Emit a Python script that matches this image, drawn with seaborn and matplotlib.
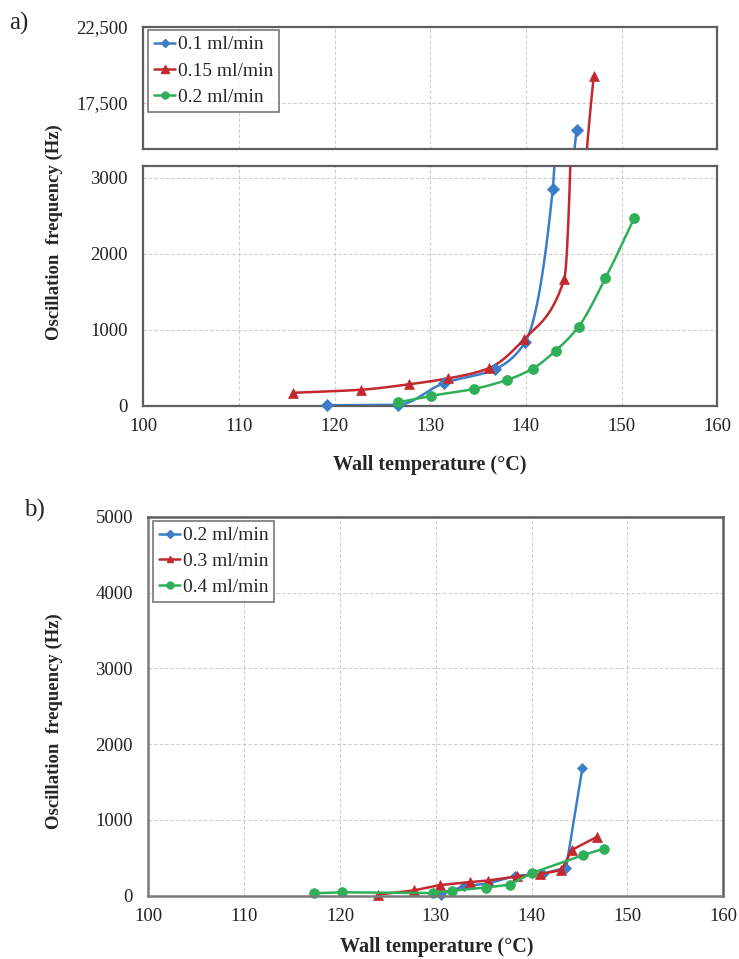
import numpy as np
import pandas as pd
import matplotlib
matplotlib.use("Agg")
import matplotlib.pyplot as plt
import seaborn as sns
from matplotlib.lines import Line2D
from matplotlib.ticker import MultipleLocator, FixedLocator, FuncFormatter

# ---------------- data ----------------
# (a) flow rates 0.1 / 0.15 / 0.2 ml/min
a_labels = ["0.1 ml/min", "0.15 ml/min", "0.2 ml/min"]
a_blue_T = [119.2, 126.6, 131.4, 136.8, 139.9, 142.8, 145.3]
a_blue_f = [5, 10, 295, 483, 834, 2851, 15700]
a_red_T = [115.7, 122.8, 127.8, 131.9, 136.1, 139.8, 144.0, 147.1]
a_red_f = [170, 210, 282, 360, 492, 874, 1663, 19300]
a_green_T = [126.6, 130.1, 134.55, 138.0, 140.7, 143.1, 145.5, 148.3, 151.3]
a_green_f = [42, 130, 220, 338, 487, 724, 1040, 1676, 2466]

# (b) flow rates 0.2 / 0.3 / 0.4 ml/min
b_labels = ["0.2 ml/min", "0.3 ml/min", "0.4 ml/min"]
b_blue_T = [130.5, 132.9, 135.4, 138.3, 141.2, 143.6, 145.3]
b_blue_f = [15, 125, 160, 262, 290, 372, 1690]
b_red_T = [124.0, 127.7, 130.4, 133.6, 135.4, 138.5, 140.9, 143.1, 144.2, 146.8]
b_red_f = [15, 70, 140, 180, 200, 255, 285, 339, 605, 775]
b_green_T = [117.3, 120.2, 129.7, 131.7, 135.2, 137.7, 140.0, 145.4, 147.5]
b_green_f = [32, 45, 35, 66, 108, 145, 298, 537, 620]

x_ticks = [100, 110, 120, 130, 140, 150, 160]

# ---------------- style ----------------
BLUE = "#3b7dc6"
RED = "#c3282e"
GREEN = "#2fb058"
SPINE = "#5e5e5e"
GRID = "#cdcdcd"

sns.set_theme(style="white")
plt.rcParams["font.family"] = ["Liberation Serif", "DejaVu Serif"]
plt.rcParams["axes.unicode_minus"] = False


def smooth_curve(x, y, n=80):
    """Monotone piecewise-cubic (Fritsch-Carlson) curve through the points."""
    x = np.asarray(x, float)
    y = np.asarray(y, float)
    h = np.diff(x)
    d = np.diff(y) / h
    m = np.zeros_like(x)
    m[0], m[-1] = d[0], d[-1]
    for k in range(1, len(x) - 1):
        if d[k - 1] * d[k] > 0:
            w1 = 2 * h[k] + h[k - 1]
            w2 = h[k] + 2 * h[k - 1]
            m[k] = (w1 + w2) / (w1 / d[k - 1] + w2 / d[k])
    xs, ys = [], []
    for k in range(len(x) - 1):
        t = np.linspace(0, 1, n)
        h00 = 2 * t**3 - 3 * t**2 + 1
        h10 = t**3 - 2 * t**2 + t
        h01 = -2 * t**3 + 3 * t**2
        h11 = t**3 - t**2
        xs.append(x[k] + t * h[k])
        ys.append(h00 * y[k] + h10 * h[k] * m[k] + h01 * y[k + 1] + h11 * h[k] * m[k + 1])
    return np.concatenate(xs), np.concatenate(ys)


def style_axes(ax, lw=1.6):
    for s in ax.spines.values():
        s.set_color(SPINE)
        s.set_linewidth(lw)
    ax.grid(True, which="major", color=GRID, linestyle=(0, (3, 2)), linewidth=0.8)
    ax.set_axisbelow(True)
    ax.tick_params(axis="both", which="major", direction="out", length=5,
                   width=1.0, color=SPINE, labelcolor="#222222")
    ax.tick_params(axis="both", which="minor", direction="in", length=4,
                   width=0.8, color="#888888")
    ax.tick_params(axis="y", labelsize=13.5, pad=6)
    ax.tick_params(axis="x", labelsize=13.5, pad=4)
    ax.tick_params(axis="x", which="both", top=False)
    ax.tick_params(axis="y", which="both", right=False)


fig = plt.figure(figsize=(7.39, 9.59), dpi=100)

# ---------------- panel (a): broken y axis ----------------
ax_top = fig.add_axes([0.1939, 0.8446, 0.7767, 0.1272])
ax_low = fig.add_axes([0.1939, 0.5770, 0.7767, 0.2502])

top_lim = (14450, 22500)
low_lim = (0, 3160)

a_series = [
    (a_blue_T, a_blue_f, BLUE, "D", 38),
    (a_red_T, a_red_f, RED, "^", 50),
    (a_green_T, a_green_f, GREEN, "o", 52),
]

for ax, lim in ((ax_top, top_lim), (ax_low, low_lim)):
    for T, f, col, mk, ms in a_series:
        xs, ys = smooth_curve(T, f)
        sns.lineplot(x=xs, y=ys, sort=False, estimator=None, color=col,
                     linewidth=1.8, ax=ax, legend=False)
        T_arr = np.asarray(T)
        f_arr = np.asarray(f)
        keep = (f_arr >= lim[0]) & (f_arr <= lim[1])
        sns.scatterplot(x=T_arr[keep], y=f_arr[keep], marker=mk, s=ms,
                        color=col, edgecolor=col, linewidth=0.5, ax=ax,
                        legend=False, zorder=4)
    for coll in ax.collections:
        coll.set_clip_on(False)
    ax.set_xlim(100, 160)
    ax.set_ylim(*lim)
    ax.xaxis.set_major_locator(FixedLocator(x_ticks))
    style_axes(ax)

ax_top.yaxis.set_major_locator(FixedLocator([17500, 22500]))
ax_top.yaxis.set_minor_locator(MultipleLocator(1000))
ax_top.yaxis.set_major_formatter(FuncFormatter(lambda v, p: f"{int(v):,}"))
ax_top.tick_params(axis="x", which="both", length=0, labelbottom=False)
ax_top.set_xlabel("")
ax_top.set_ylabel("")

ax_low.yaxis.set_major_locator(FixedLocator([0, 1000, 2000, 3000]))
ax_low.yaxis.set_minor_locator(MultipleLocator(200))
ax_low.xaxis.set_minor_locator(MultipleLocator(1))
ax_low.set_xlabel("")
ax_low.set_ylabel("")

handles_a = [
    Line2D([0], [0], color=BLUE, marker="D", markersize=4.5, lw=1.8),
    Line2D([0], [0], color=RED, marker="^", markersize=6, lw=1.8),
    Line2D([0], [0], color=GREEN, marker="o", markersize=5, lw=1.8),
]
leg_a = fig.legend(handles_a, a_labels, loc="upper left",
                   bbox_to_anchor=(0.2003, 0.9687), fontsize=14,
                   frameon=True, fancybox=False, handlelength=1.1,
                   handletextpad=0.12, labelspacing=0.45, borderpad=0.3,
                   borderaxespad=0.0)
leg_a.get_frame().set_edgecolor("#555555")
leg_a.get_frame().set_linewidth(1.2)

fig.text(0.013, 0.976, "a)", fontsize=18, va="center", ha="left")
fig.text(0.0737, 0.758, "Oscillation  frequency (Hz)", rotation=90,
         fontsize=13.5, fontweight="bold", va="center", ha="center")
fig.text(0.582, 0.515, "Wall temperature (°C)", fontsize=14.5,
         fontweight="bold", va="center", ha="center")

# ---------------- panel (b) ----------------
ax_b = fig.add_axes([0.2007, 0.0660, 0.7781, 0.3952])

b_series = [
    (b_blue_T, b_blue_f, BLUE, "D", 5),
    (b_red_T, b_red_f, RED, "^", 6.5),
    (b_green_T, b_green_f, GREEN, "o", 7),
]
for T, f, col, mk, ms in b_series:
    sns.lineplot(x=T, y=f, sort=False, estimator=None, color=col, marker=mk,
                 markersize=ms, markeredgecolor=col, markeredgewidth=0.5,
                 linewidth=1.8, ax=ax_b, legend=False, clip_on=False)

ax_b.set_xlim(100, 160)
ax_b.set_ylim(0, 5000)
ax_b.xaxis.set_major_locator(FixedLocator(x_ticks))
ax_b.xaxis.set_minor_locator(MultipleLocator(1))
ax_b.yaxis.set_major_locator(MultipleLocator(1000))
ax_b.yaxis.set_minor_locator(MultipleLocator(200))
ax_b.set_xlabel("")
ax_b.set_ylabel("")
style_axes(ax_b, lw=1.8)
for s in ("left", "bottom"):
    ax_b.spines[s].set_color("#7a7a7a")

handles_b = [
    Line2D([0], [0], color=BLUE, marker="D", markersize=4.5, lw=1.8),
    Line2D([0], [0], color=RED, marker="^", markersize=5, lw=1.8),
    Line2D([0], [0], color=GREEN, marker="o", markersize=5, lw=1.8),
]
leg_b = fig.legend(handles_b, b_labels, loc="upper left",
                   bbox_to_anchor=(0.207, 0.4567), fontsize=14,
                   frameon=True, fancybox=False, handlelength=1.1,
                   handletextpad=0.12, labelspacing=0.42, borderpad=0.3,
                   borderaxespad=0.0)
leg_b.get_frame().set_edgecolor("#555555")
leg_b.get_frame().set_linewidth(1.2)

fig.text(0.033, 0.468, "b)", fontsize=18, va="center", ha="left")
fig.text(0.0737, 0.248, "Oscillation  frequency (Hz)", rotation=90,
         fontsize=13.5, fontweight="bold", va="center", ha="center")
fig.text(0.591, 0.013, "Wall temperature (°C)", fontsize=14.5,
         fontweight="bold", va="center", ha="center")

fig.savefig("out.png", dpi=100, facecolor="white")
